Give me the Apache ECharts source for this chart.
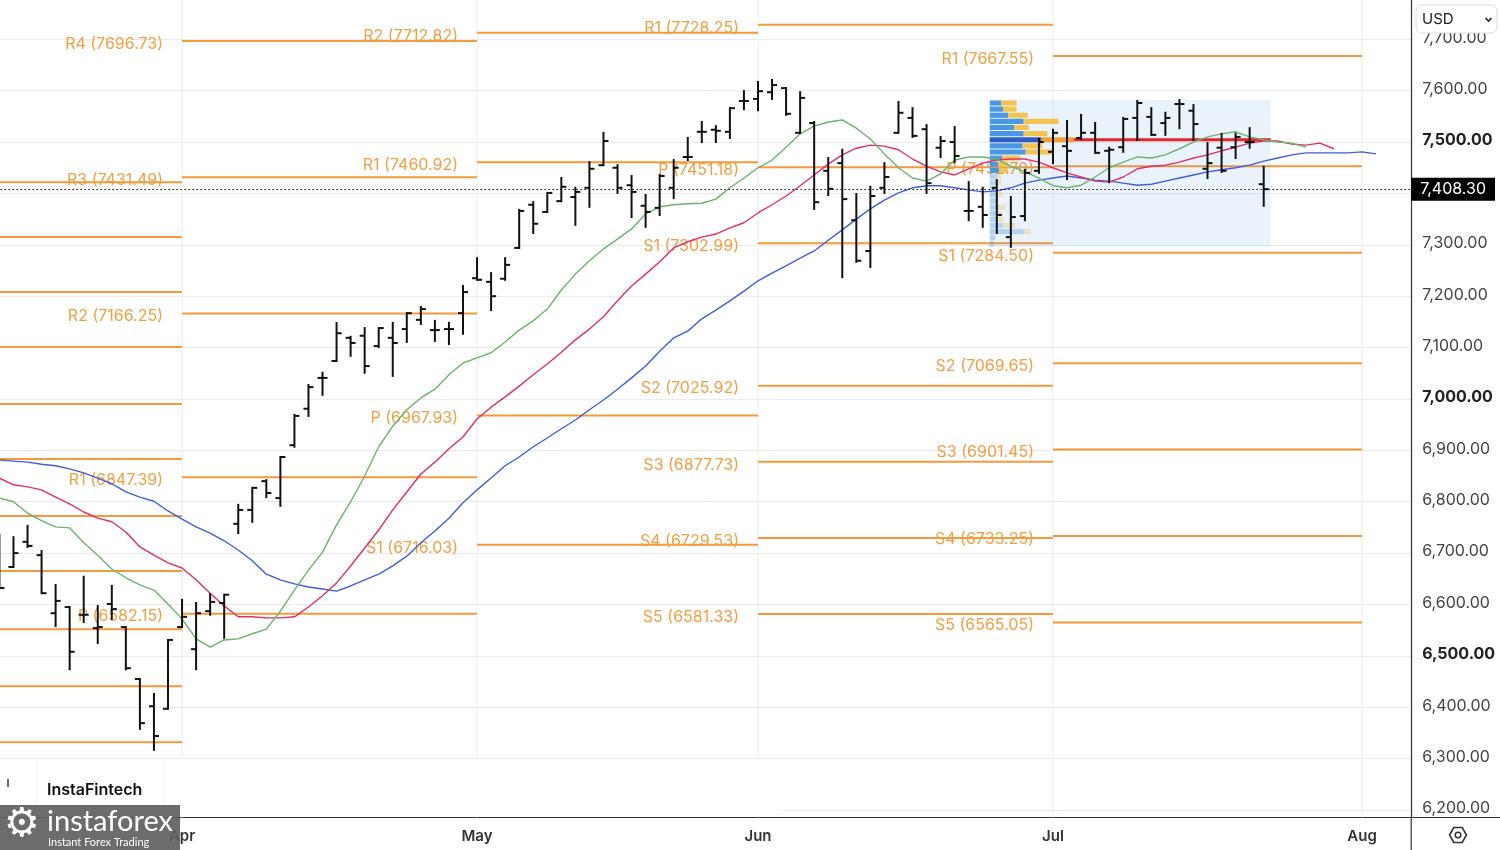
<!DOCTYPE html>
<html><head><meta charset="utf-8">
<script src="https://cdn.jsdelivr.net/npm/echarts@6.0.0/dist/echarts.min.js"></script>
<style>html,body{margin:0;padding:0;background:#fff}#c{width:1500px;height:850px}</style>
</head><body><div id="c"></div>
<script>
// ---------- categories (trading days) ----------
const marchDays = ['2026-03-13','2026-03-16','2026-03-17','2026-03-18','2026-03-19','2026-03-20','2026-03-23','2026-03-24','2026-03-25','2026-03-26','2026-03-27','2026-03-30','2026-03-31'];
const aprilDays = ['2026-04-01','2026-04-02','2026-04-06','2026-04-07','2026-04-08','2026-04-09','2026-04-10','2026-04-13','2026-04-14','2026-04-15','2026-04-16','2026-04-17','2026-04-20','2026-04-21','2026-04-22','2026-04-23','2026-04-24','2026-04-27','2026-04-28','2026-04-29','2026-04-30'];
const mayDays = ['2026-05-01','2026-05-04','2026-05-05','2026-05-06','2026-05-07','2026-05-08','2026-05-11','2026-05-12','2026-05-13','2026-05-14','2026-05-15','2026-05-18','2026-05-19','2026-05-20','2026-05-21','2026-05-22','2026-05-26','2026-05-27','2026-05-28','2026-05-29'];
const juneDays = ['2026-06-01','2026-06-02','2026-06-03','2026-06-04','2026-06-05','2026-06-08','2026-06-09','2026-06-10','2026-06-11','2026-06-12','2026-06-15','2026-06-16','2026-06-17','2026-06-18','2026-06-22','2026-06-23','2026-06-24','2026-06-25','2026-06-26','2026-06-29','2026-06-30'];
const julyDays = ['2026-07-01','2026-07-02','2026-07-06','2026-07-07','2026-07-08','2026-07-09','2026-07-10','2026-07-13','2026-07-14','2026-07-15','2026-07-16','2026-07-17','2026-07-20','2026-07-21','2026-07-22','2026-07-23','2026-07-24','2026-07-27','2026-07-28','2026-07-29','2026-07-30','2026-07-31'];
const augustDays = ['2026-08-03','2026-08-04','2026-08-05','2026-08-06'];
const dates = [].concat(marchDays, aprilDays, mayDays, juneDays, julyDays, augustDays);

const monthTicks = {'2026-04-01':'Apr','2026-05-01':'May','2026-06-01':'Jun','2026-07-01':'Jul','2026-08-03':'Aug'};

// ---------- OHLC ----------
const opens = [6700,6673,6722,6696,6583,6595,6580,6554,6601,6556,
6455,6402,6397,6556,6513,6587,6603,6757,6784,6840,
6807,6910,6981,7041,7074,7119,7123,7103,7119,7136,
7154,7134,7136,7167,7235,7228,7234,7294,7378,7364,
7385,7393,7411,7455,7450,7416,7376,7372,7411,7471,
7520,7524,7520,7580,7584,7597,7605,7518,7537,7444,
7459,7348,7288,7411,7518,7547,7525,7489,7500,7366,
7374,7411,7315,7356,7444,7481,7492,7508,7518,7483,
7490,7547,7549,7537,7574,7561,7448,7489,7490,7500,
7418];
const highs = [6735,6731,6753,6704,6638,6595,6654,6597,6636,6556,
6455,6426,6531,6609,6603,6620,6619,6794,6827,6842,
6887,6969,7027,7051,7148,7121,7138,7138,7148,7167,
7179,7152,7148,7220,7274,7245,7274,7368,7383,7401,
7430,7411,7461,7518,7455,7434,7397,7436,7465,7508,
7539,7531,7566,7599,7617,7621,7605,7597,7539,7469,
7485,7399,7413,7459,7578,7566,7533,7510,7529,7422,
7411,7426,7393,7446,7506,7524,7541,7553,7537,7489,
7547,7580,7566,7557,7582,7572,7498,7516,7516,7527,
7452];
const lows = [6632,6673,6712,6622,6558,6474,6566,6525,6572,6474,
6358,6317,6397,6556,6474,6580,6535,6739,6761,6809,
6792,6907,6967,7008,7074,7084,7051,7101,7045,7111,
7146,7113,7107,7127,7232,7173,7232,7294,7323,7364,
7385,7339,7374,7455,7401,7354,7335,7358,7391,7465,
7500,7500,7508,7564,7562,7584,7553,7518,7370,7397,
7237,7267,7257,7401,7518,7510,7401,7471,7461,7348,
7335,7323,7296,7348,7440,7459,7428,7506,7479,7422,
7481,7504,7514,7514,7527,7504,7430,7442,7469,7489,
7376];
const closes = [6632,6700,6714,6622,6607,6508,6580,6556,6591,6476,
6369,6344,6531,6576,6583,6605,6619,6784,6827,6817,
6887,6967,7023,7041,7128,7109,7064,7138,7109,7167,
7175,7134,7136,7208,7232,7200,7261,7366,7341,7401,
7413,7403,7448,7502,7411,7403,7364,7434,7450,7471,
7520,7522,7566,7580,7599,7611,7555,7586,7383,7409,
7389,7269,7395,7432,7557,7512,7420,7502,7473,7366,
7358,7358,7354,7440,7500,7518,7483,7518,7479,7485,
7545,7576,7514,7547,7574,7535,7459,7444,7510,7500,
7408.30];

// ---------- Alligator lines ----------
const jaw = [6881,6879,6877,6873,6870,6864,6856,6846,6835,6819,
6809,6801,6782,6766,6751,6739,6724,6706,6685,6659,
6648,6640,6634,6630,6626,6636,6648,6659,6675,6694,
6720,6743,6768,6798,6823,6846,6870,6887,6907,6924,
6942,6959,6979,6998,7019,7041,7064,7093,7119,7132,
7156,7173,7191,7210,7230,7245,7259,7274,7288,7309,
7329,7350,7370,7387,7401,7411,7415,7415,7411,7407,
7403,7405,7411,7420,7426,7430,7434,7430,7426,7424,
7420,7416,7418,7424,7430,7436,7442,7446,7450,7455,
7463,7469,7475,7479,7479,7479,7479,7481,7477];
const teeth = [6846,6833,6829,6823,6809,6796,6780,6768,6761,6741,
6712,6696,6681,6671,6648,6622,6597,6576,6576,6574,
6574,6576,6595,6617,6642,6675,6710,6745,6784,6819,
6854,6877,6903,6926,6961,6984,7004,7025,7047,7068,
7091,7115,7136,7160,7191,7220,7243,7267,7294,7306,
7315,7321,7333,7343,7362,7378,7395,7415,7436,7457,
7475,7488,7494,7492,7485,7467,7453,7442,7436,7448,
7459,7465,7467,7467,7461,7450,7440,7432,7424,7422,
7432,7448,7453,7455,7461,7469,7475,7483,7490,7498,
7502,7502,7496,7494,7498,7487];
const lips = [6807,6800,6778,6763,6751,6749,6720,6696,6669,6652,
6638,6628,6601,6572,6533,6517,6531,6533,6543,6552,
6587,6628,6667,6702,6755,6800,6850,6907,6947,6979,
7002,7019,7047,7070,7080,7090,7111,7134,7152,7175,
7212,7243,7269,7292,7311,7331,7360,7374,7378,7380,
7381,7389,7411,7430,7450,7465,7490,7516,7531,7539,
7543,7527,7506,7477,7450,7430,7424,7438,7465,7471,
7471,7467,7453,7442,7430,7415,7411,7416,7432,7450,
7461,7471,7469,7475,7487,7500,7510,7516,7520,7510,
7504,7500,7498,7490];

// ---------- monthly pivot levels ----------
const marchLevels = [['',7422],['',7315],['',7208],['',7101],['',6990],['',6883],['',6772],['',6665],['',6552],['',6441],['',6332]];
const aprilPivots = [['R4',7696.73],['R3',7431.49],['R2',7166.25],['R1',6847.39],['P',6582.15]];
const mayPivots = [['R2',7712.82],['R1',7460.92],['P',6967.93],['S1',6716.03]];
const junePivots = [['R1',7728.25],['P',7451.18],['S1',7302.99],['S2',7025.92],['S3',6877.73],['S4',6729.53],['S5',6581.33]];
const julyPivots = [['R1',7667.55],['P',7452.70],['S1',7284.50],['S2',7069.65],['S3',6901.45],['S4',6733.25],['S5',6565.05]];
const pivotPeriods = [
  ['2026-03-13','2026-04-01',marchLevels],
  ['2026-04-01','2026-05-01',aprilPivots],
  ['2026-05-01','2026-06-01',mayPivots],
  ['2026-06-01','2026-07-01',junePivots],
  ['2026-07-01','2026-08-03',julyPivots]
];

// ---------- volume profile (fixed range) ----------
const profileFrom = '2026-06-25', profileTo = '2026-07-23';
const profileHigh = 7582, profileLow = 7296, valueAreaLow = 7439;
const profUp   = [11,13,18,33,24,33,50,32,35,12,8,9,7,8,6,8,7,9,8,8,13,33,5,4];   // top -> bottom
const profDown = [15,13,19,34,14,23,32,19,26,18,10,9,4,3,2,5,2,6,4,5,12,7,0,0];

// ---------- y axis ticks ----------
const yTicks = [6200,6300,6400,6500,6600,6700,6800,6900,7000,7100,7200,7300,7400,7500,7600,7700];
const lastClose = closes[closes.length-1];
const yLabels = yTicks.filter(v => Math.abs(v - lastClose) > 30);

// ---------- build ----------
const idx = d => dates.indexOf(d);
const ohlcData = opens.map((o,i)=>[i,o,highs[i],lows[i],closes[i]]);
const pivotData = [];
pivotPeriods.forEach(p => p[2].forEach(l => pivotData.push([idx(p[0]), idx(p[1]), l[1], l[0]])));
const monthLineData = Object.keys(monthTicks).map(d => [idx(d), 7000]);
const fmt = v => { const s = v.toFixed(2).split('.'); return s[0].replace(/\B(?=(\d{3})+(?!\d))/g, ',') + '.' + s[1]; };

const ORANGE = '#F49A3A', ORANGE_T = '#F0A044';
const FONT = 'Inter, Roboto, sans-serif';

const chart = echarts.init(document.getElementById('c'), null, {renderer:'canvas'});
chart.setOption({
  animation: false,
  backgroundColor: '#fff',
  grid: {left: -7.6, right: 88.8, top: 0, bottom: 32.5, outerBoundsMode: 'none', containLabel: false},
  xAxis: {
    type: 'category', data: dates, boundaryGap: true,
    axisLine: {show: true, lineStyle: {color: '#333', width: 1.2}},
    axisTick: {show: false},
    splitLine: {show: false},
    axisLabel: {
      interval: (i, v) => monthTicks[v] !== undefined,
      formatter: v => monthTicks[v] || '',
      color: '#333', fontFamily: FONT, fontSize: 15, fontWeight: 600, margin: 11
    }
  },
  yAxis: {
    type: 'value', position: 'right', min: 6185.4, max: 7776.5, scale: true,
    axisLine: {show: true, lineStyle: {color: '#333', width: 1.2}},
    axisTick: {show: false, customValues: yTicks},
    splitLine: {show: true, lineStyle: {color: '#ebebeb', width: 1}},
    axisLabel: {
      customValues: yLabels, margin: 11,
      formatter: v => (v % 500 === 0 ? '{b|' : '{n|') + fmt(v) + '}',
      rich: {
        n: {color: '#444', fontFamily: FONT, fontSize: 16, padding: [0, 0, 3, 0]},
        b: {color: '#222', fontFamily: FONT, fontSize: 16, fontWeight: 700, padding: [0, 0, 3, 0]}
      }
    }
  },
  series: [
    { // month grid lines
      type: 'custom', z: 1, silent: true, data: monthLineData, encode: {x: 0, y: 1},
      renderItem: (params, api) => {
        const x = api.coord([api.value(0), api.value(1)])[0];
        const cs = params.coordSys;
        return {type: 'line', shape: {x1: x, y1: cs.y, x2: x, y2: cs.y + cs.height}, style: {stroke: '#ebebeb', lineWidth: 1}};
      }
    },
    { // pivot lines
      type: 'custom', z: 2, silent: true, data: pivotData, encode: {x: [0, 1], y: 2},
      renderItem: (params, api) => {
        const v = api.value(2);
        const s = api.coord([api.value(0), v]);
        const e = api.coord([api.value(1), v]);
        const name = pivotData[params.dataIndex][3];
        const ch = [{type: 'line', shape: {x1: s[0], y1: s[1], x2: e[0], y2: e[1]}, style: {stroke: ORANGE, lineWidth: 2}}];
        if (name) ch.push({type: 'text', x: s[0] - 19, y: s[1] + 3,
          style: {text: name + ' (' + v.toFixed(2) + ')', fill: ORANGE_T, font: '16px ' + FONT, align: 'right', verticalAlign: 'middle'}});
        return {type: 'group', children: ch};
      }
    },
    { // volume profile
      type: 'custom', z: 3, silent: true,
      data: [[idx(profileFrom), idx(profileTo), profileLow, profileHigh]], encode: {x: [0, 1], y: [2, 3]},
      renderItem: (params, api) => {
        const half = api.size([1, 0])[0] / 2;
        const tl = api.coord([api.value(0), api.value(3)]);
        const br = api.coord([api.value(1), api.value(2)]);
        const left = tl[0] - half, right = br[0] + half;
        const boxW = right - left;
        const n = profUp.length, step = (profileHigh - profileLow) / n;
        const tot = profUp.map((u, k) => u + profDown[k]);
        const maxTot = Math.max.apply(null, tot);
        const poc = tot.indexOf(maxTot);
        const sc = 0.3 * boxW / maxTot;
        const ch = [{type: 'rect', shape: {x: left, y: tl[1], width: boxW, height: br[1] - tl[1]}, style: {fill: 'rgba(66,150,230,0.11)'}}];
        const pocY = api.coord([api.value(0), profileHigh - (poc + 0.5) * step])[1];
        ch.push({type: 'line', shape: {x1: left, y1: pocY, x2: right, y2: pocY}, style: {stroke: '#E3242B', lineWidth: 3}});
        for (let k = 0; k < n; k++) {
          const pTop = profileHigh - k * step, pBot = pTop - step;
          const yT = api.coord([api.value(0), pTop])[1], yB = api.coord([api.value(0), pBot])[1];
          const inVA = pBot >= valueAreaLow - 1;
          const isPoc = k === poc;
          const blue = isPoc ? '#2F5FC4' : (inVA ? '#4A97E4' : 'rgba(74,151,228,0.35)');
          const yel = isPoc ? '#F0A12E' : (inVA ? '#F4C453' : 'rgba(244,196,83,0.35)');
          const wU = profUp[k] * sc, wD = profDown[k] * sc;
          ch.push({type: 'rect', shape: {x: left, y: yT + 0.5, width: wU, height: yB - yT - 1}, style: {fill: blue}});
          if (wD > 0) ch.push({type: 'rect', shape: {x: left + wU, y: yT + 0.5, width: wD, height: yB - yT - 1}, style: {fill: yel}});
        }
        return {type: 'group', children: ch};
      }
    },
    {type: 'line', name: 'Jaw', z: 4, data: jaw, showSymbol: false, silent: true, lineStyle: {color: '#3F5FD8', width: 1.4},
      markLine: {silent: true, symbol: ['none', 'none'], z: 10,
        lineStyle: {color: '#111', type: [1.5, 2.5], width: 1.2},
        label: {show: true, position: 'end', distance: 0, formatter: () => fmt(lastClose),
          backgroundColor: '#000', color: '#fff', fontFamily: FONT, fontSize: 16, padding: [4, 9, 3, 9]},
        data: [{yAxis: lastClose}]}},
    {type: 'line', name: 'Teeth', z: 4, data: teeth, showSymbol: false, silent: true, lineStyle: {color: '#E0306A', width: 1.4}},
    {type: 'line', name: 'Lips', z: 4, data: lips, showSymbol: false, silent: true, lineStyle: {color: '#6AB46A', width: 1.4}},
    { // OHLC bars
      type: 'custom', z: 5, silent: true, data: ohlcData, encode: {x: 0, y: [1, 2, 3, 4]},
      renderItem: (params, api) => {
        const i = api.value(0);
        const o = api.coord([i, api.value(1)]), h = api.coord([i, api.value(2)]);
        const l = api.coord([i, api.value(3)]), c = api.coord([i, api.value(4)]);
        const st = {stroke: '#111', lineWidth: 2};
        return {type: 'group', children: [
          {type: 'line', shape: {x1: h[0], y1: h[1] - 1, x2: l[0], y2: l[1] + 1}, style: st},
          {type: 'line', shape: {x1: o[0] - 5, y1: o[1], x2: o[0], y2: o[1]}, style: st},
          {type: 'line', shape: {x1: c[0], y1: c[1], x2: c[0] + 5, y2: c[1]}, style: st}
        ]};
      }
    }
  ],
  graphic: [
    {type: 'rect', z: 100, silent: true, shape: {x: 0, y: 759, width: 780, height: 57.5}, style: {fill: '#fff'}},
    {type: 'line', z: 100, silent: true, shape: {x1: 37, y1: 759, x2: 37, y2: 805}, style: {stroke: '#f0f0f0', lineWidth: 1}},
    {type: 'line', z: 100, silent: true, shape: {x1: 164, y1: 759, x2: 164, y2: 805}, style: {stroke: '#f0f0f0', lineWidth: 1}},
    {type: 'line', z: 100, silent: true, shape: {x1: 8, y1: 779, x2: 8, y2: 787}, style: {stroke: '#333', lineWidth: 1.5}},
    {type: 'text', z: 101, silent: true, x: 47, y: 790, style: {text: 'InstaFintech', fill: '#111', font: '600 16px ' + FONT, verticalAlign: 'middle'}},
    {type: 'rect', z: 102, silent: true, shape: {x: 0, y: 805, width: 180, height: 45}, style: {fill: 'rgba(95,95,95,0.92)'}},
    {type: 'text', z: 103, silent: true, x: 4, y: 826, style: {text: '\u2699', fill: '#fff', font: '40px "DejaVu Sans"', verticalAlign: 'middle'}},
    {type: 'text', z: 103, silent: true, x: 47, y: 822, style: {text: 'instaforex', fill: '#fff', font: '29px Lato, sans-serif', verticalAlign: 'middle'}},
    {type: 'text', z: 103, silent: true, x: 48, y: 842, style: {text: 'Instant Forex Trading', fill: '#fff', font: '11px Lato, sans-serif', verticalAlign: 'middle'}},
    {type: 'line', z: 100, silent: true, shape: {x1: 1411, y1: 817.5, x2: 1500, y2: 817.5}, style: {stroke: '#333', lineWidth: 1.2}},
    {type: 'line', z: 100, silent: true, shape: {x1: 1411.2, y1: 817.5, x2: 1411.2, y2: 850}, style: {stroke: '#333', lineWidth: 1.2}},
    {type: 'polygon', z: 100, silent: true, shape: {points: [[1449.5,835],[1453.8,827.5],[1462.2,827.5],[1466.5,835],[1462.2,842.5],[1453.8,842.5]]}, style: {fill: 'none', stroke: '#333', lineWidth: 1.6}},
    {type: 'circle', z: 100, silent: true, shape: {cx: 1458, cy: 835, r: 2.8}, style: {fill: 'none', stroke: '#333', lineWidth: 1.5}},
    {type: 'rect', z: 100, silent: true, shape: {x: 1416, y: 5, width: 81, height: 28, r: 6}, style: {fill: '#fff', stroke: '#dcdcdc', lineWidth: 1}},
    {type: 'text', z: 101, silent: true, x: 1422, y: 19.5, style: {text: 'USD', fill: '#222', font: '15px ' + FONT, verticalAlign: 'middle'}},
    {type: 'polyline', z: 101, silent: true, shape: {points: [[1485.5,18],[1488.5,21],[1491.5,18]]}, style: {stroke: '#222', lineWidth: 1.6, fill: 'none'}}
  ]
});
</script></body></html>
